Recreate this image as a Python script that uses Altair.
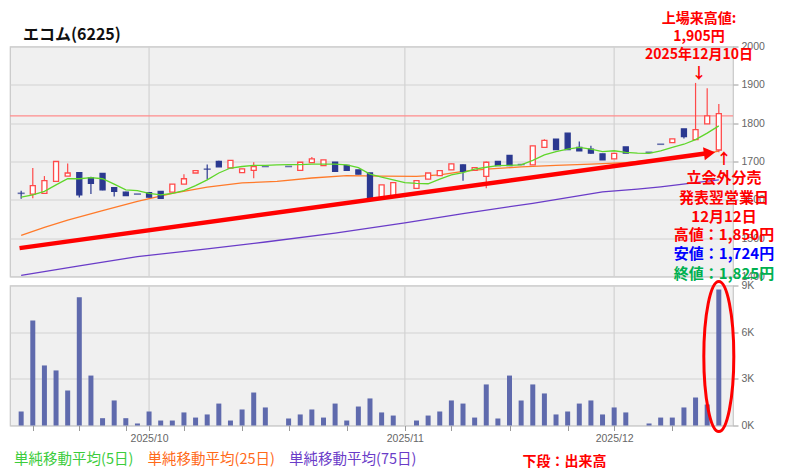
import altair as alt
import pandas as pd

# ---------------- data (trading-day index: 0 = 2025-09-12 ... 60 = 2025-12-12) ----------------
month_idx = [11, 33, 51]
month_lbl = ["2025/10", "2025/11", "2025/12"]
week_idx = [1, 5, 9, 14, 19, 23, 28, 33, 37, 42, 47, 51, 56]

opens = [1617, 1615, 1617, 1648, 1662, 1671, 1657, 1669, 1632, 1620,
         1615, 1619, 1622, 1620, 1641, 1670, 1680, 1700, 1683, 1671,
         1677, 1687, None, 1687, 1677, 1697, 1689, 1698, 1690, 1678,
         1670, 1604, 1607, None, 1630, 1654, 1663, 1678, 1691, 1677,
         1661, 1700, 1716, 1692, 1691, 1737, 1758, 1774, 1737, 1732,
         1720, 1707, 1738, None, 1724, 1745, 1749, 1785, 1757, 1798, 1730]
highs = [1624, 1683, 1662, 1700, 1695, 1672, 1660, 1670, 1632, 1621,
         1615, 1620, 1623, 1641, 1667, 1676, 1692, 1702, 1703, 1681,
         1698, 1687, None, 1687, 1698, 1712, 1704, 1698, 1690, 1678,
         1670, 1639, 1645, None, 1650, 1670, 1676, 1694, 1692, 1684,
         1700, 1700, 1716, 1692, 1741, 1758, 1758, 1774, 1752, 1741,
         1720, 1721, 1738, None, 1724, 1745, 1759, 1785, 1905, 1891, 1850]
lows = [1603, 1604, 1617, 1648, 1662, 1606, 1615, 1625, 1609, 1610,
        1615, 1606, 1603, 1620, 1641, 1670, 1653, 1686, 1683, 1671,
        1656, 1687, None, 1687, 1677, 1697, 1689, 1674, 1677, 1667,
        1603, 1604, 1607, None, 1630, 1654, 1663, 1678, 1650, 1677,
        1630, 1689, 1689, 1692, 1691, 1737, 1731, 1731, 1728, 1720,
        1704, 1707, 1722, None, 1724, 1745, 1749, 1760, 1757, 1798, 1724]
closes = [1617, 1637, 1650, 1700, 1670, 1613, 1643, 1626, 1622, 1611,
          1615, 1607, 1604, 1641, 1655, 1676, 1680, 1686, 1703, 1681,
          1687, 1687, None, 1687, 1698, 1707, 1704, 1674, 1677, 1667,
          1606, 1639, 1645, None, 1650, 1670, 1676, 1694, 1674, 1684,
          1698, 1689, 1689, 1692, 1741, 1755, 1731, 1731, 1728, 1722,
          1704, 1721, 1722, None, 1724, 1745, 1759, 1765, 1783, 1819, 1825]
volumes = [900, 6750, 3860, 3540, 2250, 8250, 3210, 470, 1610, 470,
           130, 900, 320, 320, 840, 510, 710, 1410, 320, 1030,
           2120, 1160, 0, 450, 710, 1030, 510, 1410, 320, 1220,
           1740, 840, 640, 0, 320, 640, 900, 1610, 1410, 510,
           2640, 450, 3210, 1610, 2640, 2060, 710, 900, 1410, 1610,
           710, 1160, 840, 0, 130, 510, 510, 1160, 1800, 1350, 8740]

ma5 = [1607, 1613, 1622, 1639, 1655, 1655, 1658, 1655, 1641, 1626,
       1624, 1617, 1613, 1617, 1624, 1637, 1652, 1670, 1683, 1687,
       1690, 1690, 1691, 1692, 1692, 1693, 1693, 1693, 1691, 1684,
       1667, 1659, 1652, 1645, 1643, 1642, 1654, 1665, 1671, 1680,
       1685, 1689, 1690, 1691, 1703, 1717, 1726, 1732, 1737, 1732,
       1726, 1728, 1724, 1722, 1721, 1728, 1737, 1745, 1757, 1774, 1793]
ma25_idx = [0, 2, 4, 7, 10, 13, 16, 19, 22, 25, 28, 31, 34, 36, 38, 40, 43, 46, 49, 52, 55, 58, 60]
ma25_val = [1507, 1528, 1547, 1572, 1596, 1617, 1633, 1644, 1648, 1657, 1663, 1662, 1661, 1665, 1674,
            1680, 1686, 1690, 1693, 1697, 1706, 1716, 1727]
ma75_idx = [0, 5, 10, 16, 21, 27, 33, 38, 44, 50, 53, 55, 58, 60]
ma75_val = [1403, 1428, 1452, 1472, 1490, 1513, 1540, 1564, 1591, 1621, 1628, 1634, 1645, 1652]

prev_close_line = [1819]
trend_idx = [-0.14, 59.0]
trend_val = [1474, 1721.4]
arrow_idx = [59.2]
arrow_val = [1722.2]
highlight_idx = [60]
highlight_vol = [4430]

# ---------------- styling ----------------
UP = "#ff4a4a"
DOWN = "#2b3990"
VOLC = "#5f6aad"
JP = "Noto Sans CJK JP"
W, H1, H2 = 723, 230, 140

xscale = alt.Scale(domain=[-0.53, 60.79], nice=False, zero=False)
yscale = alt.Scale(domain=[1400, 2000], nice=False, zero=False)
vscale = alt.Scale(domain=[0, 9000], nice=False, zero=False)
yaxis = alt.Axis(orient="right", values=list(range(1400, 2001, 100)), grid=True, title=None,
                 domain=False, tickSize=5, labelPadding=3, format="d")
vaxis = alt.Axis(orient="right", values=[0, 3000, 6000, 9000], grid=True, title=None,
                 domain=False, tickSize=5, labelPadding=3,
                 labelExpr="(datum.value / 1000) + 'K'")
lab_expr = " : ".join(f"datum.value == {i} ? '{l}'" for i, l in zip(month_idx, month_lbl)) + " : ''"
xaxis_bottom = alt.Axis(values=sorted(set(week_idx + month_idx)), labelExpr=lab_expr, grid=False,
                        title=None, domain=False, tickSize=5, labelPadding=3, labelOverlap=False,
                        labelFlush=False)


def XT(f):
    return alt.X(f, type="quantitative", scale=xscale, axis=None)


def YP(f):
    return alt.Y(f, type="quantitative", scale=yscale, axis=yaxis)


def txt(s, x, y, color, size, weight="bold", align="center", font=JP):
    return alt.Chart(pd.DataFrame({"t": [s]})).mark_text(
        align=align, baseline="middle", font=font, fontSize=size, fontWeight=weight, color=color
    ).encode(text="t:N", x=alt.value(x), y=alt.value(y))


# ---------------- tables ----------------
rows = []
for i in range(61):
    if opens[i] is None:
        continue
    rows.append({"i": i, "open": opens[i], "high": highs[i], "low": lows[i], "close": closes[i],
                 "dir": "up" if closes[i] > opens[i] else "down",
                 "doji": opens[i] == closes[i]})
cdf = pd.DataFrame(rows)
body_df = cdf[~cdf["doji"]]
doji_df = cdf[cdf["doji"]]
mdf = pd.DataFrame({"i": month_idx})
vdf = pd.DataFrame({"i": list(range(61)), "v": volumes})

dir_color = alt.Color("dir:N", scale=alt.Scale(domain=["up", "down"], range=[UP, DOWN]), legend=None)
dir_stroke = alt.Stroke("dir:N", scale=alt.Scale(domain=["up", "down"], range=[UP, DOWN]), legend=None)
dir_fill = alt.Fill("dir:N", scale=alt.Scale(domain=["up", "down"], range=["#ffffff", DOWN]), legend=None)

# ---------------- upper panel ----------------
grid_v = alt.Chart(mdf).mark_rule(color="#d2d2d2", strokeWidth=1.2).encode(x=XT("i"))
prev_line = alt.Chart(pd.DataFrame({"p": prev_close_line})).mark_rule(
    color="#ff8c8c", strokeWidth=1.2).encode(y=YP("p"))
wicks = alt.Chart(cdf).mark_rule(strokeWidth=1.2).encode(
    x=XT("i"), y=YP("low"), y2="high", color=dir_color)
bodies = alt.Chart(body_df).mark_bar(size=5, strokeWidth=1.3, orient="vertical").encode(
    x=XT("i"), y=YP("open"), y2="close", fill=dir_fill, stroke=dir_stroke)
dojis = alt.Chart(doji_df).mark_tick(orient="horizontal", size=7, thickness=1.6, color=DOWN).encode(
    x=XT("i"), y=YP("close"))
l5 = alt.Chart(pd.DataFrame({"i": list(range(61)), "m": ma5})).mark_line(
    color="#5fd62a", strokeWidth=1.3).encode(x=XT("i"), y=YP("m"))
l25 = alt.Chart(pd.DataFrame({"i": ma25_idx, "m": ma25_val})).mark_line(
    color="#ff7a2a", strokeWidth=1.3).encode(x=XT("i"), y=YP("m"))
l75 = alt.Chart(pd.DataFrame({"i": ma75_idx, "m": ma75_val})).mark_line(
    color="#6a3cc8", strokeWidth=1.3).encode(x=XT("i"), y=YP("m"))
trend = alt.Chart(pd.DataFrame({"i": trend_idx, "p": trend_val})).mark_line(
    color="#ff0000", strokeWidth=4.5).encode(x=XT("i"), y=YP("p"))
arrowhead = alt.Chart(pd.DataFrame({"i": arrow_idx, "p": arrow_val})).mark_point(
    shape="triangle-right", filled=True, size=170, angle=352, color="#ff0000", opacity=1).encode(
    x=XT("i"), y=YP("p"))

top_texts = [
    txt("エコム(6225)", 13, -12, "#111111", 16, align="left"),
    txt("上場来高値:", 689, -27.5, "#ff0000", 14),
    txt("1,905円", 689, -10, "#ff0000", 14),
    txt("2025年12月10日", 689, 8, "#ff0000", 14),
    txt("↓", 689, 26, "#ff0000", 15),
    txt("↑", 714, 112, "#ff0000", 15),
    txt("立会外分売", 714, 131, "#ff0000", 15),
    txt("発表翌営業日", 714, 151, "#ff0000", 15),
    txt("12月12日", 714, 170, "#ff0000", 15),
    txt("高値：1,850円", 714, 188, "#ff0000", 15),
    txt("安値：1,724円", 714, 207, "#0000ff", 15),
    txt("終値：1,825円", 714, 227, "#00b050", 15),
]

upper = alt.layer(grid_v, prev_line, l75, l25, wicks, bodies, dojis, l5, trend, arrowhead,
                  *top_texts).properties(width=W, height=H1)

# ---------------- lower panel ----------------
XB = alt.X("i:Q", scale=xscale, axis=xaxis_bottom)
grid_v2 = alt.Chart(mdf).mark_rule(color="#d2d2d2", strokeWidth=1.2).encode(x=XB)
vbars = alt.Chart(vdf).mark_bar(size=5, color=VOLC, orient="vertical").encode(
    x=XB, y=alt.Y("v:Q", scale=vscale, axis=vaxis))
ELLIPSE = "M0,-1A0.2,1,0,1,1,0,1A0.2,1,0,1,1,0,-1Z"
ring = alt.Chart(pd.DataFrame({"i": highlight_idx, "v": highlight_vol})).mark_point(
    shape=ELLIPSE, size=22500, filled=False, stroke="#ff0000", strokeWidth=3, opacity=1).encode(
    x=XB, y=alt.Y("v:Q", scale=vscale, axis=vaxis))

bottom_texts = [
    txt("単純移動平均(5日)", 4, 174, "#3ccc3c", 14.5, weight="normal", align="left"),
    txt("単純移動平均(25日)", 137.5, 174, "#ff6a1a", 14.5, weight="normal", align="left"),
    txt("単純移動平均(75日)", 279, 174, "#6a3cc8", 14.5, weight="normal", align="left"),
    txt("下段：出来高", 554.5, 176, "#ff0000", 14),
]

lower = alt.layer(grid_v2, vbars, ring, *bottom_texts).properties(width=W, height=H2)

chart = alt.vconcat(upper, lower, spacing=9, bounds="flush").properties(
    padding={"left": 0, "top": 2.5, "right": 0, "bottom": 0}, background="#ffffff"
).configure_view(fill="#f0f0f0", stroke="#c8c8c8", strokeWidth=1.2).configure_axis(
    labelFont="Liberation Sans", labelFontSize=10.5, labelColor="#666666", tickColor="#9a9a9a",
    gridColor="#d2d2d2", gridWidth=1.2
)

chart.save("out.html", embed_options={"renderer": "svg", "actions": False})
